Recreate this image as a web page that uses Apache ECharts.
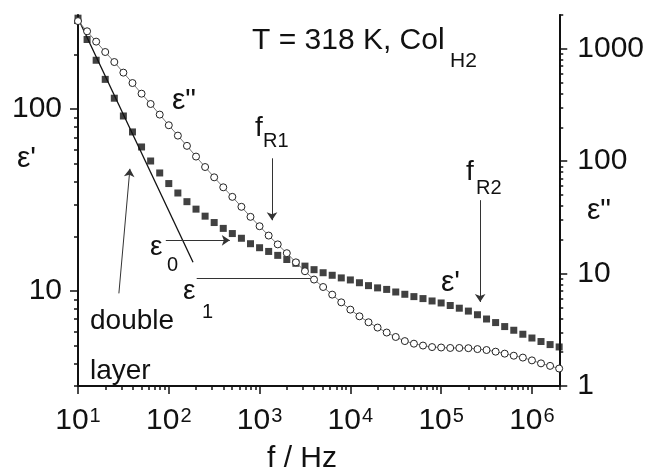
<!DOCTYPE html>
<html>
<head>
<meta charset="utf-8">
<script src="https://cdn.jsdelivr.net/npm/echarts@6/dist/echarts.min.js"></script>
<style>
  html, body { margin: 0; padding: 0; background: #fff; }
  #chart { width: 647px; height: 473px; }
</style>
</head>
<body>
<div id="chart"></div>
<script>
// frequency points (Hz), 10 per decade
const freq = [
  10, 12.59, 15.85, 19.95, 25.12, 31.62, 39.81, 50.12, 63.1, 79.43,
  100, 125.9, 158.5, 199.5, 251.2, 316.2, 398.1, 501.2, 631, 794.3,
  1000, 1259, 1585, 1995, 2512, 3162, 3981, 5012, 6310, 7943,
  10000, 12590, 15850, 19950, 25120, 31620, 39810, 50120, 63100, 79430,
  100000, 125900, 158500, 199500, 251200, 316200, 398100, 501200, 631000, 794300,
  1000000, 1259000, 1585000, 1995000
];
// eps' (left axis)
const epsReal = [
  317, 242, 186, 146, 115, 91.8, 75, 62, 51.9, 44.6,
  39, 34.6, 31, 28.2, 25.8, 23.8, 22.1, 20.7, 19.5, 18.2,
  17.3, 16.5, 15.7, 14.9, 14.2, 13.7, 13.1, 12.6, 12.2, 11.8,
  11.5, 11.1, 10.7, 10.4, 10.2, 9.87, 9.59, 9.31, 9.08, 8.81,
  8.59, 8.32, 8.04, 7.75, 7.4, 7.01, 6.7, 6.37, 6.08, 5.78,
  5.51, 5.27, 5.07, 4.92
];
// eps'' (right axis)
const epsImag = [
  1766, 1433, 1159, 937, 763, 614, 496, 399, 323, 260,
  209, 169, 137, 110, 88.8, 71.9, 58.6, 48.2, 39.3, 32,
  26.4, 21.8, 18.2, 15.2, 12.6, 10.5, 8.85, 7.6, 6.5, 5.55,
  4.78, 4.17, 3.69, 3.31, 2.99, 2.73, 2.51, 2.38, 2.29, 2.22,
  2.2, 2.18, 2.18, 2.17, 2.13, 2.09, 2.02, 1.94, 1.86, 1.79,
  1.69, 1.59, 1.51, 1.43
];
// double layer fit line (eps1)
const fitFreq = [10, 185];
const fitEps = [317, 14.4];

// axis ranges and tick labels
const xRange = [10, 2000000];
const leftRange = [3, 330];
const rightRange = [1, 2000];
const xMajor = [10, 100, 1000, 10000, 100000, 1000000];
const leftMajor = [10, 100];
const rightMajor = [1, 10, 100, 1000];

// annotation arrows, in (f, eps') data space
const arrowFR1 = [[1371, 53.7], [1371, 24.5]];
const arrowFR2 = [[269000, 31.6], [269000, 8.7]];
const arrowEps0 = [[92.7, 19.0], [470, 19.0]];
const lineEps1 = [[203, 11.8], [3724, 11.8]];
const arrowLayer = [[28.2, 9.7], [37.3, 47]];

const FONT = '"Liberation Sans", Arial, sans-serif';
const INK = '#111';

// 2..9 x 10^n positions inside a range (minor log ticks)
function minorTicks(lo, hi) {
  const out = [];
  for (let e = Math.floor(Math.log10(lo)); e <= Math.ceil(Math.log10(hi)); e++) {
    for (let m = 2; m <= 9; m++) {
      const v = m * Math.pow(10, e);
      if (v >= lo * 0.999 && v <= hi * 1.001) out.push(v);
    }
  }
  return out;
}

function isIn(v, list) {
  return list.some(t => Math.abs(v - t) < t * 1e-6);
}

// invisible copy of an axis that only carries the short minor ticks
function minorAxis(range, position) {
  return {
    type: 'log',
    logBase: 10,
    min: range[0],
    max: range[1],
    position: position,
    axisLine: { show: false },
    axisLabel: { show: false },
    splitLine: { show: false },
    axisTick: {
      show: true, inside: false, length: 4,
      customValues: minorTicks(range[0], range[1]),
      lineStyle: { color: INK, width: 1.5 }
    }
  };
}

function majorTick(values) {
  return {
    show: true, inside: false, length: 8,
    customValues: values,
    lineStyle: { color: INK, width: 1.5 }
  };
}

function txt(x, y, text, size, align) {
  return {
    type: 'text', x: x, y: y, z: 20,
    style: {
      text: text, fill: INK,
      font: size + 'px ' + FONT,
      textAlign: align || 'left',
      textVerticalAlign: 'middle'
    }
  };
}

function arrow(c, head) {
  return [
    { coord: c[0], symbol: 'none' },
    { coord: c[1], symbol: head ? 'arrow' : 'none' }
  ];
}

const chart = echarts.init(document.getElementById('chart'));
const option = {
  backgroundColor: '#fff',
  animation: false,
  grid: { left: 78, top: 15, right: 86, bottom: 87 },
  xAxis: [
    {
      type: 'log',
      logBase: 10,
      min: xRange[0],
      max: xRange[1],
      position: 'bottom',
      axisLine: { lineStyle: { color: INK, width: 2 } },
      axisTick: majorTick(xMajor),
      splitLine: { show: false },
      axisLabel: {
        color: INK,
        fontFamily: FONT,
        fontSize: 30,
        margin: 20,
        customValues: xMajor,
        formatter: function (v) {
          const e = Math.round(Math.log10(v));
          return isIn(v, xMajor) ? '10{sup|' + e + '}' : '';
        },
        rich: {
          sup: { fontSize: 20, fontFamily: FONT, color: INK, verticalAlign: 'top', padding: [0, 0, 0, 1] }
        }
      }
    },
    minorAxis(xRange, 'bottom')
  ],
  yAxis: [
    {
      type: 'log',
      logBase: 10,
      min: leftRange[0],
      max: leftRange[1],
      position: 'left',
      axisLine: { show: true, lineStyle: { color: INK, width: 2 } },
      axisTick: majorTick(leftMajor),
      splitLine: { show: false },
      axisLabel: {
        color: INK, fontFamily: FONT, fontSize: 30, margin: 16,
        customValues: leftMajor,
        formatter: v => isIn(v, leftMajor) ? String(Math.round(v)) : ''
      }
    },
    {
      type: 'log',
      logBase: 10,
      min: rightRange[0],
      max: rightRange[1],
      position: 'right',
      axisLine: { show: true, lineStyle: { color: INK, width: 2 } },
      axisTick: majorTick(rightMajor),
      splitLine: { show: false },
      axisLabel: {
        color: INK, fontFamily: FONT, fontSize: 30, margin: 18,
        customValues: rightMajor,
        formatter: v => isIn(v, rightMajor) ? String(Math.round(v)) : ''
      }
    },
    minorAxis(leftRange, 'left'),
    minorAxis(rightRange, 'right')
  ],
  series: [
    {
      name: 'fit',
      type: 'line',
      xAxisIndex: 0,
      yAxisIndex: 0,
      data: fitFreq.map((f, i) => [f, fitEps[i]]),
      symbol: 'none',
      lineStyle: { color: INK, width: 1.3 },
      z: 3,
      markLine: {
        silent: true,
        animation: false,
        symbolSize: 8,
        label: { show: false },
        lineStyle: { color: '#333', width: 1, type: 'solid' },
        emphasis: { disabled: true },
        data: [
          arrow(arrowFR1, true),
          arrow(arrowFR2, true),
          arrow(arrowEps0, true),
          arrow(arrowLayer, true),
          arrow(lineEps1, false)
        ]
      }
    },
    {
      name: "eps'",
      type: 'scatter',
      xAxisIndex: 0,
      yAxisIndex: 0,
      data: freq.map((f, i) => [f, epsReal[i]]),
      symbol: 'rect',
      symbolSize: 7,
      itemStyle: { color: INK },
      z: 4
    },
    {
      name: "eps''",
      type: 'line',
      xAxisIndex: 0,
      yAxisIndex: 1,
      data: freq.map((f, i) => [f, epsImag[i]]),
      symbol: 'circle',
      symbolSize: 7,
      showAllSymbol: true,
      lineStyle: { color: '#777', width: 1 },
      itemStyle: { color: '#fff', borderColor: '#222', borderWidth: 1 },
      z: 6
    }
  ],
  graphic: [
    txt(252, 41, 'T = 318 K, Col', 30),
    txt(450, 61, 'H2', 21),
    txt(172, 101, 'ε"', 30),
    txt(255, 128, 'f', 28),
    txt(263, 141, 'R1', 20),
    txt(466, 172, 'f', 28),
    txt(476, 188, 'R2', 20),
    txt(441, 283, "ε'", 30),
    txt(587, 211, 'ε"', 30),
    txt(17, 159, "ε'", 30),
    txt(150, 247, 'ε', 28),
    txt(167, 265, '0', 20),
    txt(183, 291, 'ε', 28),
    txt(202, 312, '1', 20),
    txt(90, 321, 'double', 28),
    txt(90, 371, 'layer', 28),
    txt(302, 459, 'f / Hz', 30, 'center')
  ]
};
chart.setOption(option);
</script>
</body>
</html>
